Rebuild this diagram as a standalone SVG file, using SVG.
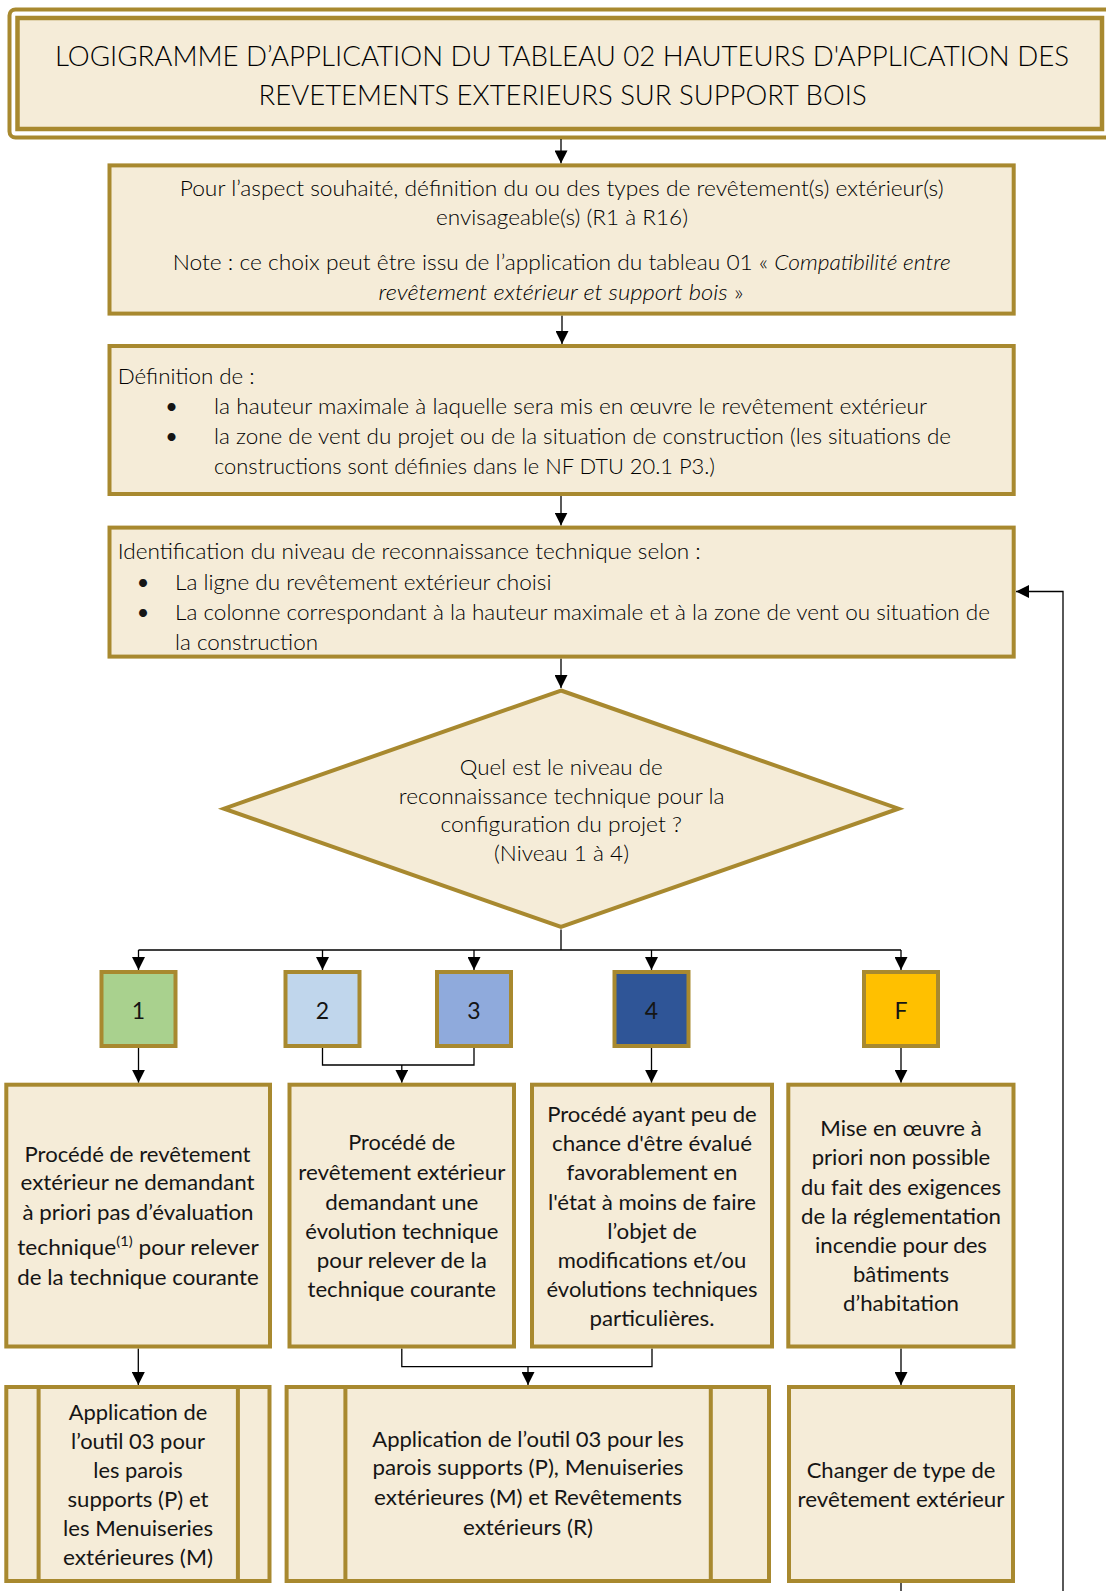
<svg xmlns="http://www.w3.org/2000/svg" width="1106" height="1591" viewBox="0 0 1106 1591">
  <defs>
    <style>
      .box { fill: #F5ECD8; stroke: #A8892F; stroke-width: 4; }
      .frame { fill: none; stroke: #A8892F; stroke-width: 4; }
      .con { fill: none; stroke: #000; stroke-width: 1.3; }
      .arr { fill: none; stroke: #000; stroke-width: 1.3; marker-end: url(#tip); }
      text { font-family: Lato, "Open Sans", "Liberation Sans", sans-serif; font-size: 21.6px; fill: #151515; }
      .lt { font-weight: 300; fill: #000; }
      .c { text-anchor: middle; }
      .it { font-style: italic; }
      .ttl { font-size: 28px; font-weight: 300; fill: #000; }
      .num { font-size: 23px; text-anchor: middle; }
    </style>
    <marker id="tip" markerUnits="userSpaceOnUse" markerWidth="13" markerHeight="13" refX="13" refY="6.5" orient="auto">
      <path d="M0,0 L13,6.5 L0,13 z" fill="#000"/>
    </marker>
  </defs>

  <rect width="1106" height="1591" fill="#fff"/>

  <!-- Title block -->
  <g id="title">
    <rect class="frame" x="9.5" y="9.5" width="1110" height="128" rx="6"/>
    <rect class="box" x="17.5" y="18" width="1084.5" height="111" style="stroke-width:4.5"/>
    <text class="ttl c" x="562" y="66" textLength="1014" lengthAdjust="spacingAndGlyphs">LOGIGRAMME D’APPLICATION DU TABLEAU 02 HAUTEURS D'APPLICATION DES</text>
    <text class="ttl c" x="562.6" y="104.5" textLength="608" lengthAdjust="spacingAndGlyphs">REVETEMENTS EXTERIEURS SUR SUPPORT BOIS</text>
  </g>

  <!-- Connectors -->
  <g id="connectors">
    <path class="arr" d="M561,139 V163.4"/>
    <path class="arr" d="M562,315.6 V344"/>
    <path class="arr" d="M561,496 V525.6"/>
    <path class="arr" d="M561,658.5 V688"/>
    <path class="con" d="M561,929.5 V950 M138.5,950 H901"/>
    <path class="arr" d="M138.5,950 V970"/>
    <path class="arr" d="M322.5,950 V970"/>
    <path class="arr" d="M474,950 V970"/>
    <path class="arr" d="M651.5,950 V970"/>
    <path class="arr" d="M901,950 V970"/>
    <path class="arr" d="M138.5,1048 V1082.7"/>
    <path class="con" d="M322.5,1048 V1065 H474 V1048"/>
    <path class="arr" d="M401.8,1065 V1082.7"/>
    <path class="arr" d="M651.5,1048 V1082.7"/>
    <path class="arr" d="M901,1048 V1082.7"/>
    <path class="arr" d="M138.3,1348.5 V1385"/>
    <path class="con" d="M401.8,1348.5 V1366.7 H652 V1348.5"/>
    <path class="arr" d="M528,1366.7 V1385"/>
    <path class="arr" d="M901,1348.5 V1385"/>
    <path class="con" d="M901,1583 V1591"/>
    <path class="arr" d="M1063,1591 V591.5 H1016"/>
  </g>

  <!-- Aspect / revetement choice -->
  <g id="choix">
    <rect class="box" x="109.5" y="165.4" width="904.2" height="148.2"/>
    <text class="lt c" x="561.7" y="196.3" textLength="764" lengthAdjust="spacingAndGlyphs">Pour l’aspect souhaité, définition du ou des types de revêtement(s) extérieur(s)</text>
    <text class="lt c" x="562" y="225.3" textLength="252" lengthAdjust="spacingAndGlyphs">envisageable(s) (R1 à R16)</text>
    <text class="lt c" x="561.7" y="270.3" textLength="778" lengthAdjust="spacingAndGlyphs">Note : ce choix peut être issu de l’application du tableau 01 « <tspan class="it">Compatibilité entre</tspan></text>
    <text class="lt c" x="561" y="299.7" textLength="365" lengthAdjust="spacingAndGlyphs"><tspan class="it">revêtement extérieur et support bois</tspan> »</text>
  </g>

  <!-- Height and wind zone -->
  <g id="definition">
    <rect class="box" x="109.5" y="346" width="904.2" height="148"/>
    <text class="lt" x="117.7" y="383.7" textLength="137" lengthAdjust="spacingAndGlyphs">Définition de :</text>
    <text class="c" x="171.5" y="413.7">•</text>
    <text class="c" x="171.5" y="443.7">•</text>
    <text class="lt" x="214" y="413.7" textLength="713" lengthAdjust="spacingAndGlyphs">la hauteur maximale à laquelle sera mis en œuvre le revêtement extérieur</text>
    <text class="lt" x="214" y="443.7" textLength="737" lengthAdjust="spacingAndGlyphs">la zone de vent du projet ou de la situation de construction (les situations de</text>
    <text class="lt" x="214" y="473.7" textLength="501" lengthAdjust="spacingAndGlyphs">constructions sont définies dans le NF DTU 20.1 P3.)</text>
  </g>

  <!-- Technical recognition level lookup -->
  <g id="identification">
    <rect class="box" x="109.5" y="527.6" width="904.2" height="129"/>
    <text class="lt" x="117.7" y="558.7" textLength="583" lengthAdjust="spacingAndGlyphs">Identification du niveau de reconnaissance technique selon :</text>
    <text class="c" x="143" y="589.7">•</text>
    <text class="c" x="143" y="620.3">•</text>
    <text class="lt" x="175" y="589.7" textLength="376.5" lengthAdjust="spacingAndGlyphs">La ligne du revêtement extérieur choisi</text>
    <text class="lt" x="175" y="620.3" textLength="815" lengthAdjust="spacingAndGlyphs">La colonne correspondant à la hauteur maximale et à la zone de vent ou situation de</text>
    <text class="lt" x="175" y="649.7" textLength="143" lengthAdjust="spacingAndGlyphs">la construction</text>
  </g>

  <!-- Decision -->
  <g id="decision">
    <polygon class="box" points="561,690.5 898.5,808.7 561,927 224,808.7"/>
    <text class="lt c" x="561.2" y="775.3" textLength="203" lengthAdjust="spacingAndGlyphs">Quel est le niveau de</text>
    <text class="lt c" x="561.7" y="803.7" textLength="325.7" lengthAdjust="spacingAndGlyphs">reconnaissance technique pour la</text>
    <text class="lt c" x="561.2" y="832" textLength="241.5" lengthAdjust="spacingAndGlyphs">configuration du projet ?</text>
    <text class="lt c" x="561.5" y="861" textLength="135" lengthAdjust="spacingAndGlyphs">(Niveau 1 à 4)</text>
  </g>

  <!-- Level squares -->
  <g id="niveau-1">
    <rect class="box" x="101.5" y="972" width="74" height="74" style="fill:#A9D18E"/>
    <text class="num" x="138.5" y="1019.3">1</text>
  </g>
  <g id="niveau-2">
    <rect class="box" x="285.5" y="972" width="74" height="74" style="fill:#C0D6EC"/>
    <text class="num" x="322.5" y="1019.3">2</text>
  </g>
  <g id="niveau-3">
    <rect class="box" x="437" y="972" width="74" height="74" style="fill:#8FAADC"/>
    <text class="num" x="474" y="1019.3">3</text>
  </g>
  <g id="niveau-4">
    <rect class="box" x="614.5" y="972" width="74" height="74" style="fill:#2F5597"/>
    <text class="num" x="651.5" y="1019.3">4</text>
  </g>
  <g id="niveau-f">
    <rect class="box" x="864" y="972" width="74" height="74" style="fill:#FFC000"/>
    <text class="num" x="901" y="1019.3">F</text>
  </g>

  <!-- Outcome descriptions -->
  <g id="resultat-1">
    <rect class="box" x="6.3" y="1084.7" width="263.7" height="261.8"/>
    <text class="c" x="137.5" y="1162" textLength="226" lengthAdjust="spacingAndGlyphs">Procédé de revêtement</text>
    <text class="c" x="137.5" y="1190.3" textLength="234" lengthAdjust="spacingAndGlyphs">extérieur ne demandant</text>
    <text class="c" x="138" y="1219.7" textLength="231" lengthAdjust="spacingAndGlyphs">à priori pas d’évaluation</text>
    <text class="c" x="138" y="1255.3" textLength="241.5" lengthAdjust="spacingAndGlyphs">technique<tspan dy="-9" font-size="14">(1)</tspan><tspan dy="9"> pour relever</tspan></text>
    <text class="c" x="138" y="1285.3" textLength="241.5" lengthAdjust="spacingAndGlyphs">de la technique courante</text>
  </g>
  <g id="resultat-2-3">
    <rect class="box" x="289.5" y="1084.7" width="224.5" height="261.8"/>
    <text class="c" x="401.8" y="1150.3" textLength="107" lengthAdjust="spacingAndGlyphs">Procédé de</text>
    <text class="c" x="401.8" y="1179.7" textLength="207" lengthAdjust="spacingAndGlyphs">revêtement extérieur</text>
    <text class="c" x="401.8" y="1209.7" textLength="153" lengthAdjust="spacingAndGlyphs">demandant une</text>
    <text class="c" x="401.8" y="1238.7" textLength="193" lengthAdjust="spacingAndGlyphs">évolution technique</text>
    <text class="c" x="401.8" y="1267.7" textLength="170" lengthAdjust="spacingAndGlyphs">pour relever de la</text>
    <text class="c" x="401.8" y="1297" textLength="188.6" lengthAdjust="spacingAndGlyphs">technique courante</text>
  </g>
  <g id="resultat-4">
    <rect class="box" x="532" y="1084.7" width="240" height="261.8"/>
    <text class="c" x="652" y="1122" textLength="209.6" lengthAdjust="spacingAndGlyphs">Procédé ayant peu de</text>
    <text class="c" x="652" y="1151" textLength="200" lengthAdjust="spacingAndGlyphs">chance d'être évalué</text>
    <text class="c" x="652" y="1179.7" textLength="171" lengthAdjust="spacingAndGlyphs">favorablement en</text>
    <text class="c" x="652" y="1209.7" textLength="208" lengthAdjust="spacingAndGlyphs">l'état à moins de faire</text>
    <text class="c" x="652" y="1238.7" textLength="89.7" lengthAdjust="spacingAndGlyphs">l’objet de</text>
    <text class="c" x="652" y="1267.7" textLength="188.7" lengthAdjust="spacingAndGlyphs">modifications et/ou</text>
    <text class="c" x="652" y="1297" textLength="211" lengthAdjust="spacingAndGlyphs">évolutions techniques</text>
    <text class="c" x="652" y="1326.3" textLength="125" lengthAdjust="spacingAndGlyphs">particulières.</text>
  </g>
  <g id="resultat-f">
    <rect class="box" x="788.3" y="1084.7" width="225.2" height="261.8"/>
    <text class="c" x="901" y="1136.3" textLength="161.4" lengthAdjust="spacingAndGlyphs">Mise en œuvre à</text>
    <text class="c" x="901" y="1165.3" textLength="178.6" lengthAdjust="spacingAndGlyphs">priori non possible</text>
    <text class="c" x="901" y="1194.7" textLength="200" lengthAdjust="spacingAndGlyphs">du fait des exigences</text>
    <text class="c" x="901" y="1223.7" textLength="200" lengthAdjust="spacingAndGlyphs">de la réglementation</text>
    <text class="c" x="901" y="1253" textLength="172" lengthAdjust="spacingAndGlyphs">incendie pour des</text>
    <text class="c" x="901" y="1282" textLength="96" lengthAdjust="spacingAndGlyphs">bâtiments</text>
    <text class="c" x="901" y="1311.3" textLength="116" lengthAdjust="spacingAndGlyphs">d’habitation</text>
  </g>

  <!-- Follow-up actions -->
  <g id="outil-pm">
    <rect class="box" x="6.3" y="1387" width="263.2" height="194"/>
    <path class="box" d="M38.6,1387 V1581 M237.9,1387 V1581" style="fill:none"/>
    <text class="c" x="138" y="1420.3" textLength="138.5" lengthAdjust="spacingAndGlyphs">Application de</text>
    <text class="c" x="138" y="1448.7" textLength="134" lengthAdjust="spacingAndGlyphs">l’outil 03 pour</text>
    <text class="c" x="138" y="1478" textLength="89.3" lengthAdjust="spacingAndGlyphs">les parois</text>
    <text class="c" x="138" y="1507" textLength="141" lengthAdjust="spacingAndGlyphs">supports (P) et</text>
    <text class="c" x="138" y="1536.3" textLength="150" lengthAdjust="spacingAndGlyphs">les Menuiseries</text>
    <text class="c" x="138" y="1565.3" textLength="150" lengthAdjust="spacingAndGlyphs">extérieures (M)</text>
  </g>
  <g id="outil-pmr">
    <rect class="box" x="286.6" y="1387" width="482.4" height="194"/>
    <path class="box" d="M345.4,1387 V1581 M710.8,1387 V1581" style="fill:none"/>
    <text class="c" x="528" y="1447" textLength="311.5" lengthAdjust="spacingAndGlyphs">Application de l’outil 03 pour les</text>
    <text class="c" x="528" y="1475.3" textLength="311" lengthAdjust="spacingAndGlyphs">parois supports (P), Menuiseries</text>
    <text class="c" x="528" y="1504.7" textLength="308" lengthAdjust="spacingAndGlyphs">extérieures (M) et Revêtements</text>
    <text class="c" x="528" y="1534.7" textLength="130" lengthAdjust="spacingAndGlyphs">extérieurs (R)</text>
  </g>
  <g id="changer">
    <rect class="box" x="789" y="1387" width="224" height="194"/>
    <text class="c" x="901" y="1478" textLength="188.7" lengthAdjust="spacingAndGlyphs">Changer de type de</text>
    <text class="c" x="901" y="1507" textLength="207" lengthAdjust="spacingAndGlyphs">revêtement extérieur</text>
  </g>
</svg>
